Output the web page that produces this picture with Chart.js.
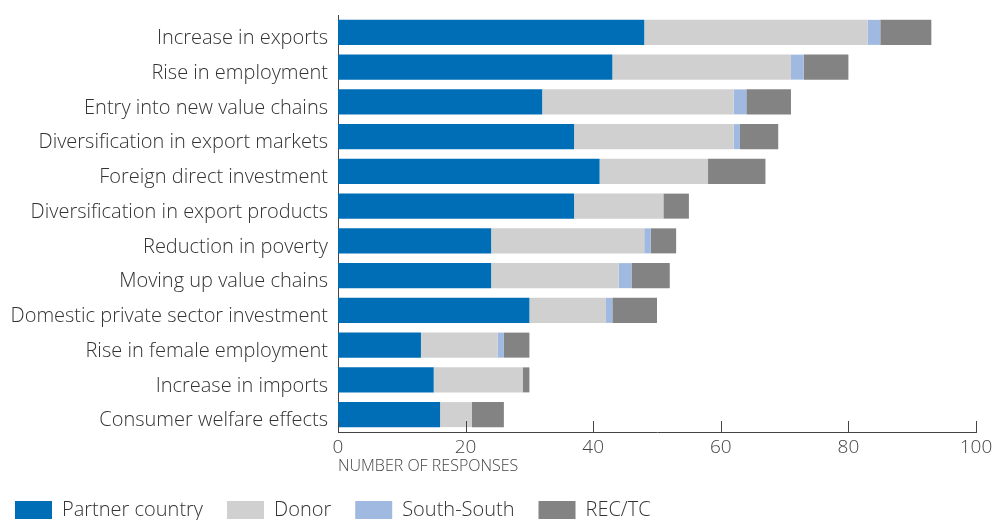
<!DOCTYPE html>
<html>
<head>
<meta charset="utf-8">
<script src="https://cdn.jsdelivr.net/npm/chart.js@4.4.1/dist/chart.umd.min.js"></script>
<style>
  html, body { margin: 0; padding: 0; background: #fff; }
  #wrap { width: 994px; height: 520px; }
</style>
</head>
<body>
<div id="wrap"><canvas id="chart" width="994" height="520"></canvas></div>
<script>
const categories = [
  "Increase in exports",
  "Rise in employment",
  "Entry into new value chains",
  "Diversification in export markets",
  "Foreign direct investment",
  "Diversification in export products",
  "Reduction in poverty",
  "Moving up value chains",
  "Domestic private sector investment",
  "Rise in female employment",
  "Increase in imports",
  "Consumer welfare effects"
];
const partnerCountry = [48, 43, 32, 37, 41, 37, 24, 24, 30, 13, 15, 16];
const donor = [35, 28, 30, 25, 17, 14, 24, 20, 12, 12, 14, 5];
const southSouth = [2, 2, 2, 1, 0, 0, 1, 2, 1, 1, 0, 0];
const recTc = [8, 7, 7, 6, 9, 4, 4, 6, 7, 4, 1, 5];
const xTicks = [0, 20, 40, 60, 80, 100];

const FONT = "'Open Sans', 'Noto Sans', sans-serif";

// small tick marks pointing up from the x axis
const innerTicks = {
  id: "innerTicks",
  afterDraw(chart) {
    const { ctx, chartArea } = chart;
    const x = chart.scales.x;
    ctx.save();
    ctx.strokeStyle = "#444";
    ctx.lineWidth = 1;
    xTicks.forEach((v) => {
      const px = Math.round(x.getPixelForValue(v)) + 0.5;
      ctx.beginPath();
      ctx.moveTo(px, chartArea.bottom);
      ctx.lineTo(px, chartArea.bottom - 11);
      ctx.stroke();
    });
    ctx.restore();
  },
};

// keep the legend strip short even with wide item padding
const legendHeight = {
  id: "legendHeight",
  afterInit(chart) {
    const lg = chart.legend;
    const fit = lg.fit.bind(lg);
    lg.fit = function () {
      fit();
      this.height = 44;
    };
  },
  afterLayout(chart) {
    chart.legend.left -= 9;
  },
};

new Chart(document.getElementById("chart").getContext("2d"), {
  type: "bar",
  data: {
    labels: categories,
    datasets: [
      { label: "Partner country", data: partnerCountry, backgroundColor: "#006eb6" },
      { label: "Donor", data: donor, backgroundColor: "#cfd0cf" },
      { label: "South-South", data: southSouth, backgroundColor: "#a0b9e1" },
      { label: "REC/TC", data: recTc, backgroundColor: "#838383" },
    ],
  },
  options: {
    indexAxis: "y",
    responsive: false,
    animation: false,
    barPercentage: 0.72,
    categoryPercentage: 1,
    layout: { padding: { top: 15, right: 18, left: 0, bottom: 0 } },
    plugins: {
      tooltip: { enabled: false },
      legend: {
        position: "bottom",
        align: "start",
        labels: {
          boxWidth: 37,
          boxHeight: 18,
          padding: 24,
          color: "#333",
          font: { family: FONT, size: 20, weight: 300 },
        },
      },
    },
    scales: {
      x: {
        stacked: true,
        min: 0,
        max: 100,
        afterBuildTicks: (s) => { s.ticks = xTicks.map((v) => ({ value: v })); },
        afterFit: (s) => { s.height = 44; s.paddingLeft = 0; s.paddingRight = 0; },
        grid: { display: false, drawTicks: false },
        border: { display: true, color: "#444", width: 1 },
        ticks: {
          padding: 4,
          color: "#444",
          font: { family: FONT, size: 19, weight: 300 },
        },
        title: {
          display: true,
          text: "NUMBER OF RESPONSES",
          align: "start",
          color: "#444",
          padding: { top: 0, bottom: 0 },
          font: { family: FONT, size: 16, weight: 300 },
        },
      },
      y: {
        stacked: true,
        afterFit: (s) => { s.width = 338; s.paddingTop = 0; s.paddingBottom = 0; },
        grid: { display: false, drawTicks: false },
        border: { display: true, color: "#444", width: 1 },
        ticks: {
          padding: 10,
          labelOffset: 6,
          color: "#333",
          font: { family: FONT, size: 20, weight: 300 },
        },
      },
    },
  },
  plugins: [innerTicks, legendHeight],
});
</script>
</body>
</html>
